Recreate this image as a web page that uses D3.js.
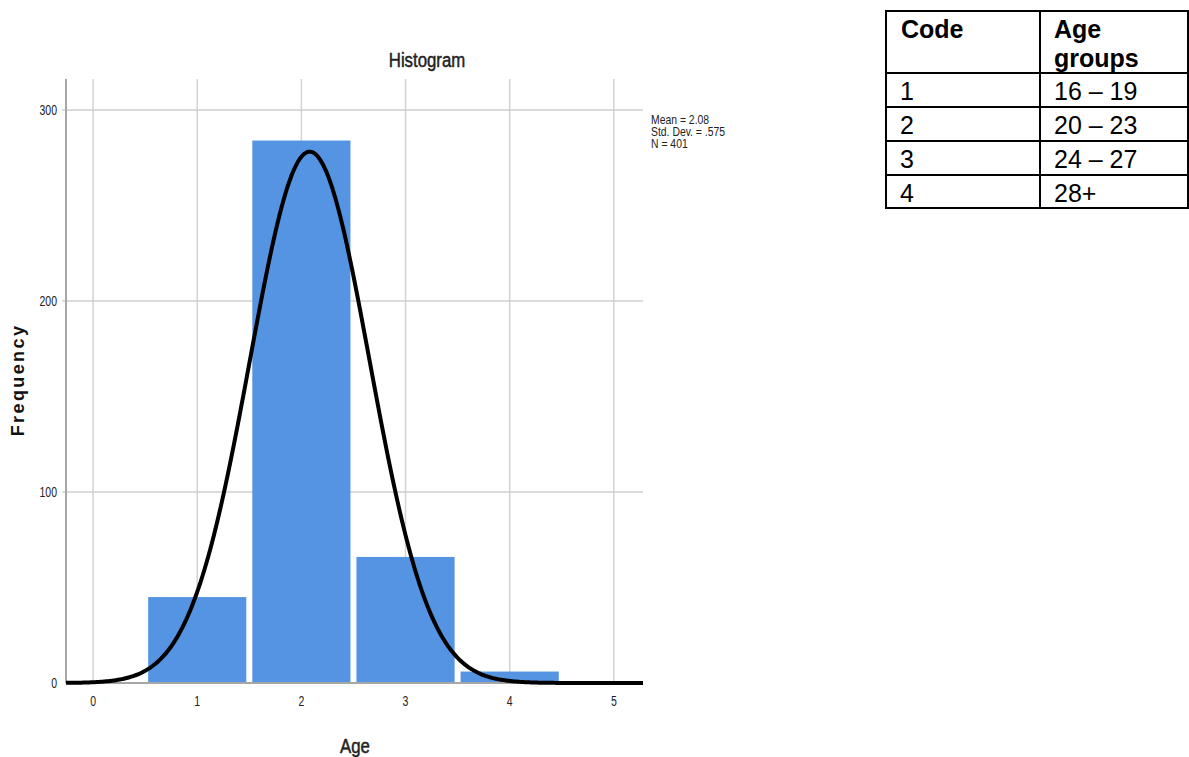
<!DOCTYPE html>
<html lang="en">
<head>
<meta charset="UTF-8">
<title>Histogram</title>
<script src="https://cdn.jsdelivr.net/npm/d3@7"></script>
<style>
  body { margin: 0; background: #fff; }
  svg { display: block; }
  .narrow { font-family: "Liberation Sans", Arial, sans-serif; fill: #222; }
  .heavy { stroke: #222; stroke-width: 0.5; }
</style>
</head>
<body>
<svg id="chart" width="1189" height="757"></svg>
<script>
// histogram data (age codes and counts)
var codes = [1, 2, 3, 4];
var counts = [45, 284, 66, 6];
var xTicks = [0, 1, 2, 3, 4, 5];
var yTicks = [0, 100, 200, 300];
var stats = ["Mean = 2.08", "Std. Dev. = .575", "N = 401"];
var mean = 2.08, sd = 0.575, n = 401;

// lookup table
var tableHead = ["Code", "Age", "groups"];
var ageGroups = ["16 \u2013 19", "20 \u2013 23", "24 \u2013 27", "28+"];

var svg = d3.select("#chart");

var plotL = 66, plotR = 643, plotT = 79, plotB = 683;
var x = d3.scaleLinear().domain([-0.26, 5.28]).range([plotL, plotR]);
var y = d3.scaleLinear().domain([0, 300]).range([plotB, 110]);

// spss style text is condensed, so squeeze it horizontally
function at(px, py, s) { return "translate(" + px + "," + py + ") scale(" + (s || 0.8) + ",1)"; }

// grid
svg.append("g").selectAll("line").data(xTicks).enter().append("line")
  .attr("x1", d => x(d)).attr("x2", d => x(d))
  .attr("y1", plotT).attr("y2", plotB)
  .attr("stroke", "#d3d3d3").attr("stroke-width", 1.5);
svg.append("g").selectAll("line").data(yTicks.filter(d => d > 0)).enter().append("line")
  .attr("x1", plotL - 4).attr("x2", plotR)
  .attr("y1", d => y(d)).attr("y2", d => y(d))
  .attr("stroke", "#cfcfcf").attr("stroke-width", 1.5);

// bars, with small white gaps between
svg.append("g").selectAll("rect").data(codes).enter().append("rect")
  .attr("x", d => x(d - 0.5) + 3)
  .attr("width", d => x(d + 0.5) - x(d - 0.5) - 6)
  .attr("y", (d, i) => y(counts[i]))
  .attr("height", (d, i) => y(0) - y(counts[i]))
  .attr("fill", "#5594e3");

// axes lines
svg.append("line").attr("x1", plotL).attr("x2", plotL).attr("y1", plotT).attr("y2", plotB)
  .attr("stroke", "#a6a6a6").attr("stroke-width", 2);
svg.append("line").attr("x1", plotL).attr("x2", plotR).attr("y1", plotB).attr("y2", plotB)
  .attr("stroke", "#a6a6a6").attr("stroke-width", 2);

// normal curve
var pts = d3.range(0, 301).map(i => -0.26 + i * (5.54 / 300));
var pdf = v => n / (sd * Math.sqrt(2 * Math.PI)) * Math.exp(-0.5 * Math.pow((v - mean) / sd, 2));
svg.append("path").datum(pts)
  .attr("d", d3.line().x(v => x(v)).y(v => y(pdf(v))).curve(d3.curveBasis))
  .attr("fill", "none").attr("stroke", "#000").attr("stroke-width", 4);

// tick labels
svg.append("g").selectAll("text").data(xTicks).enter().append("text")
  .attr("class", "narrow")
  .attr("transform", d => at(x(d), 706, 0.75))
  .attr("text-anchor", "middle").attr("font-size", 14)
  .text(d => d);
svg.append("g").selectAll("text").data(yTicks).enter().append("text")
  .attr("class", "narrow")
  .attr("transform", d => at(57, y(d) + 5, 0.75))
  .attr("text-anchor", "end").attr("font-size", 14)
  .text(d => d);

// titles
svg.append("text").attr("class", "narrow heavy")
  .attr("transform", at(427, 67)).attr("text-anchor", "middle")
  .attr("font-size", 21).text("Histogram");
svg.append("text").attr("class", "narrow heavy")
  .attr("transform", at(355, 753)).attr("text-anchor", "middle")
  .attr("font-size", 21).text("Age");
svg.append("text")
  .attr("transform", "translate(24,380) rotate(-90)")
  .attr("text-anchor", "middle")
  .attr("font-family", "Liberation Sans, Arial, sans-serif")
  .attr("font-weight", "bold").attr("font-size", 18).attr("letter-spacing", 2.4)
  .attr("fill", "#111").text("Frequency");

// stats box
svg.append("g").selectAll("text").data(stats).enter().append("text")
  .attr("class", "narrow")
  .attr("transform", (d, i) => at(651, 124 + i * 12))
  .attr("font-size", 13)
  .text(d => d);

// code table
var tx0 = 886, tx1 = 1040, tx2 = 1188;
var rowLines = [11, 73, 107, 141, 175, 208];
var tbl = svg.append("g").attr("font-family", "Liberation Sans, Arial, sans-serif").attr("fill", "#000");
tbl.selectAll("line.h").data(rowLines).enter().append("line")
  .attr("x1", tx0).attr("x2", tx2).attr("y1", d => d).attr("y2", d => d)
  .attr("stroke", "#000").attr("stroke-width", 2);
tbl.selectAll("line.v").data([tx0, tx1, tx2]).enter().append("line")
  .attr("x1", d => d).attr("x2", d => d).attr("y1", 10).attr("y2", 209)
  .attr("stroke", "#000").attr("stroke-width", 2);
tbl.append("text").attr("x", 901).attr("y", 38).attr("font-size", 25).attr("font-weight", "bold").text(tableHead[0]);
tbl.append("text").attr("x", 1054).attr("y", 38).attr("font-size", 25).attr("font-weight", "bold").text(tableHead[1]);
tbl.append("text").attr("x", 1054).attr("y", 67).attr("font-size", 25).attr("font-weight", "bold").text(tableHead[2]);
tbl.selectAll("text.code").data(codes).enter().append("text")
  .attr("x", 900).attr("y", (d, i) => rowLines[i + 1] + 27).attr("font-size", 25).text(d => d);
tbl.selectAll("text.grp").data(ageGroups).enter().append("text")
  .attr("x", 1054).attr("y", (d, i) => rowLines[i + 1] + 27).attr("font-size", 25).text(d => d);
</script>
</body>
</html>
